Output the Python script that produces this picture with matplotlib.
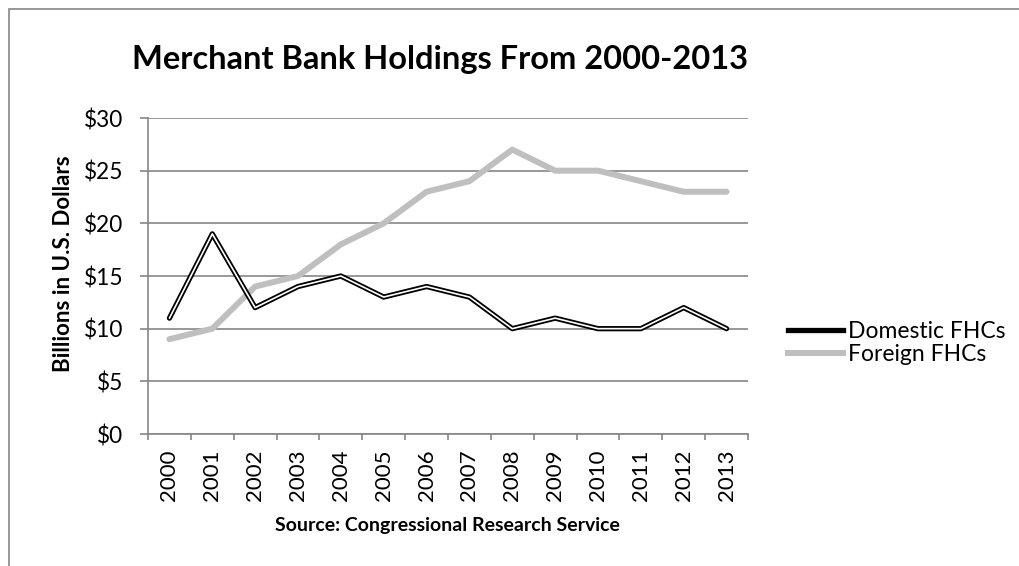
import matplotlib
matplotlib.use("Agg")
from matplotlib import pyplot as plt
from matplotlib.lines import Line2D
from matplotlib.patches import Rectangle

years = ["2000", "2001", "2002", "2003", "2004", "2005", "2006",
         "2007", "2008", "2009", "2010", "2011", "2012", "2013"]
domestic = [11, 19, 12, 14, 15, 13, 14, 13, 10, 11, 10, 10, 12, 10]
foreign = [9, 10, 14, 15, 18, 20, 23, 24, 27, 25, 25, 24, 23, 23]
yticks = [0, 5, 10, 15, 20, 25, 30]

plt.rcParams['font.family'] = ['Lato', 'DejaVu Sans']

W, H = 1019, 566
fig = plt.figure(figsize=(W / 100, H / 100), dpi=100)
ax = fig.add_axes([148 / W, 1 - 434 / H, 600 / W, 316 / H])

grid_c = '#868686'
x = list(range(len(years)))

ax.plot(x, foreign, color='#bfbfbf', lw=4.3, solid_capstyle='round', zorder=3)
ax.plot(x, domestic, color='black', lw=3.8, solid_capstyle='round', zorder=4)
ax.plot(x, domestic, color='white', lw=1.2, solid_capstyle='round', zorder=5)

ax.set_xlim(-0.5, len(years) - 0.5)
ax.set_ylim(0, 30)
ax.set_yticks(yticks)
ax.set_yticklabels(['$%d' % v for v in yticks], fontsize=16.3)
ax.set_xticks([i - 0.5 for i in range(len(years) + 1)], minor=False)
ax.set_xticklabels([])
ax.set_xticks(x, minor=True)
ax.set_xticklabels(years, minor=True, rotation=90, fontsize=16)
ax.tick_params(axis='x', which='minor', length=0, pad=11)
ax.tick_params(axis='x', which='major', length=4.5, color=grid_c, width=1.2)
ax.tick_params(axis='y', length=5.8, color=grid_c, width=1.2, pad=12)
ax.yaxis.grid(True, color=grid_c, lw=1.2)
ax.set_axisbelow(True)
for s in ['top', 'right']:
    ax.spines[s].set_visible(False)
for s in ['left', 'bottom']:
    ax.spines[s].set_color(grid_c)
    ax.spines[s].set_linewidth(1.2)

fig.text(63 / W, 1 - 264 / H, 'Billions in U.S. Dollars', rotation=90,
         fontsize=16, fontweight='bold', ha='center', va='center')

fig.text(440 / W, 1 - 60 / H, 'Merchant Bank Holdings From 2000-2013',
         fontsize=23.5, fontweight='bold', ha='center', va='center')
fig.text(447 / W, 1 - 526 / H, 'Source: Congressional Research Service',
         fontsize=14, fontweight='bold', ha='center', va='center')

handles = [Line2D([], [], color='black', lw=3.8),
           Line2D([], [], color='#bfbfbf', lw=4.3)]
fig.legend(handles, ['Domestic FHCs', 'Foreign FHCs'], loc='center left',
           bbox_to_anchor=(788 / W, 1 - 343 / H), frameon=False, fontsize=16.5,
           handlelength=2.4, handletextpad=0.2, labelspacing=0.12, borderpad=0,
           borderaxespad=0)

fig.add_artist(Rectangle((8.5 / W, -0.05), 1.2, 1 - 8.5 / H + 0.05, transform=fig.transFigure,
                         fill=False, edgecolor=grid_c, lw=1.2))

fig.savefig('out.png', dpi=100)
